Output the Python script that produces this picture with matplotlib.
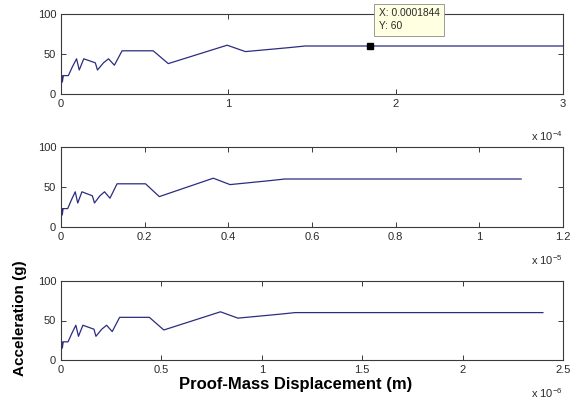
import matplotlib
matplotlib.use("Agg")
import matplotlib.pyplot as plt

plt.rcParams['font.family'] = ['Liberation Sans', 'DejaVu Sans']
plt.rcParams['mathtext.default'] = 'regular'

# Acceleration values (g), shared shape of the three curves
accel = [13, 23, 15, 23, 23, 34, 44, 30, 44, 39, 30, 39, 44, 36, 54, 54, 38, 61, 53, 58, 60, 60]

# Proof-mass displacement for each panel (in units of the axis multiplier)
disp_top = [0, 0.0055, 0.008, 0.014, 0.044, 0.068, 0.093, 0.109, 0.136, 0.205, 0.218,
            0.254, 0.284, 0.319, 0.365, 0.551, 0.641, 0.993, 1.102, 1.364, 1.459, 3.0]
disp_mid = [0, 0.002, 0.003, 0.005, 0.016, 0.025, 0.034, 0.040, 0.050, 0.075, 0.080,
            0.093, 0.104, 0.117, 0.134, 0.202, 0.235, 0.364, 0.404, 0.500, 0.535, 1.10]
disp_bot = [0, 0.0044, 0.0065, 0.011, 0.035, 0.0545, 0.074, 0.087, 0.109, 0.164, 0.174,
            0.203, 0.227, 0.255, 0.292, 0.440, 0.512, 0.794, 0.881, 1.09, 1.166, 2.40]

xticks_top = [0, 1, 2, 3]
xticks_mid = [0, 0.2, 0.4, 0.6, 0.8, 1, 1.2]
xticks_bot = [0, 0.5, 1, 1.5, 2, 2.5]
xtick_labels_top = ['0', '1', '2', '3']
xtick_labels_mid = ['0', '0.2', '0.4', '0.6', '0.8', '1', '1.2']
xtick_labels_bot = ['0', '0.5', '1', '1.5', '2', '2.5']
yticks = [0, 50, 100]
exponents = ['-4', '-5', '-6']

tip_x = 1.844
tip_y = 60
tip_text = 'X: 0.0001844\nY: 60'

W, H = 574, 403
fig = plt.figure(figsize=(W / 100, H / 100), dpi=100)
fig.patch.set_facecolor('white')

line_color = '#2c2c80'
frame_color = '#3a3a3a'
label_color = '#2a2a2a'

panels = [
    (14, 94, disp_top, xticks_top, xtick_labels_top, 3.0),
    (147, 227, disp_mid, xticks_mid, xtick_labels_mid, 1.2),
    (281, 360, disp_bot, xticks_bot, xtick_labels_bot, 2.5),
]
exp_baselines = [141, 265, 398]

axes = []
for i, (ytop, ybot, xs, xt, xtl, xmax) in enumerate(panels):
    ax = fig.add_axes([61 / W, (H - ybot) / H, 502 / W, (ybot - ytop) / H])
    ax.plot(xs, accel, color=line_color, linewidth=0.9)
    ax.set_xlim(0, xmax)
    ax.set_ylim(0, 100)
    ax.set_xticks(xt)
    ax.set_xticklabels(xtl)
    ax.set_yticks(yticks)
    ax.tick_params(direction='in', length=3.5, width=0.7, color=frame_color,
                   top=True, right=True, labelsize=8, labelcolor=label_color, pad=3.5)
    for sp in ax.spines.values():
        sp.set_color(frame_color)
        sp.set_linewidth(0.8)
    fig.text(531 / W, (H - exp_baselines[i]) / H, r'x 10$^{' + exponents[i] + '}$',
             fontsize=8, color=label_color, ha='left', va='baseline')
    axes.append(ax)

ax0 = axes[0]
ax0.plot([tip_x], [tip_y], marker='s', color='black', markersize=5, linestyle='none',
         zorder=5)
ax0.annotate(tip_text, xy=(tip_x, tip_y), xytext=(9, 15), textcoords='offset pixels',
             ha='left', va='bottom', fontsize=7.4, color=label_color, linespacing=1.35,
             annotation_clip=False, zorder=10,
             bbox=dict(boxstyle='square,pad=0.45', facecolor='#ffffe1',
                       edgecolor='#9a9a9a', linewidth=0.7))

fig.text(20 / W, (H - 318) / H, 'Acceleration (g)', rotation=90, fontsize=11,
         fontweight='bold', ha='center', va='center')
fig.text(296 / W, (H - 385) / H, 'Proof-Mass Displacement (m)', fontsize=12,
         fontweight='bold', ha='center', va='center')

fig.savefig('out.png', dpi=100, facecolor='white')
